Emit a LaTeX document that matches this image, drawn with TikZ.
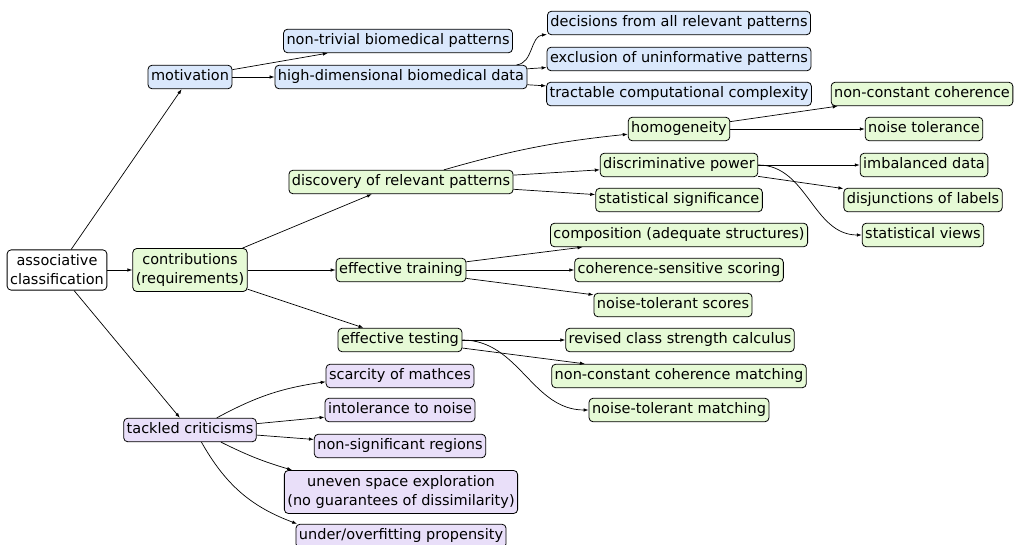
\documentclass[tikz,border=0pt]{standalone}
\usepackage{fontspec}
\setmainfont{DejaVu Sans}
\usetikzlibrary{arrows.meta}

\definecolor{motivblue}{HTML}{DAE8FC}
\definecolor{contribgreen}{HTML}{E6FAD6}
\definecolor{criticpurple}{HTML}{E9DFF9}

\tikzset{
  box/.style={draw, rounded corners=4pt, line width=0.8pt, inner xsep=3pt, inner ysep=4.5pt,
    text height=11pt, text depth=3.5pt, font=\fontsize{14.5}{19}\selectfont},
  twobox/.style={draw, rounded corners=4pt, line width=0.8pt, inner xsep=3pt, inner ysep=5pt,
    align=center, font=\fontsize{14.5}{19}\selectfont},
  motivbox/.style={box, fill=motivblue},
  contribbox/.style={box, fill=contribgreen},
  criticbox/.style={box, fill=criticpurple},
  arr/.style={-{Latex[length=5pt,width=3.5pt]}, line width=0.7pt},
}

\begin{document}
\begin{tikzpicture}[x=1pt, y=-1pt]
    \useasboundingbox (0,0) rectangle (1016,545);

    % Root
    \node[twobox, fill=white] (assoc) at (57,270) {associative\\classification};

    % Motivation
    \node[motivbox] (motiv) at (190,77) {motivation};
    \node[motivbox] (nontriv) at (398,41) {non-trivial biomedical patterns};
    \node[motivbox] (highdim) at (401,77) {high-dimensional biomedical data};
    \node[motivbox] (decis) at (679,23) {decisions from all relevant patterns};
    \node[motivbox] (exclus) at (679,59) {exclusion of uninformative patterns};
    \node[motivbox] (tract) at (679,94) {tractable computational complexity};

    % Contributions
    \node[twobox, fill=contribgreen] (contrib) at (190,270) {contributions\\(requirements)};
    \node[contribbox] (discov) at (401,182) {discovery of relevant patterns};
    \node[contribbox] (homog) at (679,129) {homogeneity};
    \node[contribbox] (discrim) at (679,165) {discriminative power};
    \node[contribbox] (statsig) at (679,200) {statistical significance};
    \node[contribbox] (nccoh) at (922,94) {non-constant coherence};
    \node[contribbox] (noisetol) at (924,129) {noise tolerance};
    \node[contribbox] (imbal) at (924,165) {imbalanced data};
    \node[contribbox] (disj) at (923,200) {disjunctions of labels};
    \node[contribbox] (statview) at (923,235) {statistical views};

    \node[contribbox] (efftrain) at (401,270) {effective training};
    \node[contribbox] (compos) at (679,235) {composition (adequate structures)};
    \node[contribbox] (cohscore) at (679,270) {coherence-sensitive scoring};
    \node[contribbox] (ntscore) at (673,305) {noise-tolerant scores};

    \node[contribbox] (efftest) at (400,340) {effective testing};
    \node[contribbox] (revised) at (680,340) {revised class strength calculus};
    \node[contribbox] (nccmatch) at (679,376) {non-constant coherence matching};
    \node[contribbox] (ntmatch) at (679,410) {noise-tolerant matching};

    % Criticisms
    \node[criticbox] (tackled) at (190,430) {tackled criticisms};
    \node[criticbox] (scarce) at (400,376) {scarcity of mathces};
    \node[criticbox] (intol) at (400,410) {intolerance to noise};
    \node[criticbox] (nonsig) at (400,446) {non-significant regions};
    \node[twobox, fill=criticpurple] (uneven) at (401,492) {uneven space exploration\\(no guarantees of dissimilarity)};
    \node[criticbox] (underfit) at (401,536) {under/overfitting propensity};

    % Edges
    \draw[arr] (assoc) -- (motiv);
    \draw[arr] (assoc) -- (contrib);
    \draw[arr] (assoc) -- (tackled);

    \draw[arr] (motiv) -- (nontriv);
    \draw[arr] (motiv) -- (highdim);
    \draw[arr] (highdim) to[out=6,in=185] (decis);
    \draw[arr] (highdim) -- (exclus);
    \draw[arr] (highdim) -- (tract);

    \draw[arr] (contrib) -- (discov);
    \draw[arr] (contrib) -- (efftrain);
    \draw[arr] (contrib) -- (efftest);

    \draw[arr] (discov) to[bend left=5] (homog);
    \draw[arr] (discov) -- (discrim);
    \draw[arr] (discov) -- (statsig);
    \draw[arr] (homog) -- (nccoh);
    \draw[arr] (homog) -- (noisetol);
    \draw[arr] (discrim) -- (imbal);
    \draw[arr] (discrim) -- (disj);
    \draw[arr] (discrim.east) to[out=0,in=180] (statview.west);

    \draw[arr] (efftrain) -- (compos);
    \draw[arr] (efftrain) -- (cohscore);
    \draw[arr] (efftrain) -- (ntscore);

    \draw[arr] (efftest) -- (revised);
    \draw[arr] (efftest) -- (nccmatch);
    \draw[arr] (efftest.east) to[out=0,in=180] (ntmatch.west);

    \draw[arr] (tackled) to[bend left=10] (scarce);
    \draw[arr] (tackled) -- (intol);
    \draw[arr] (tackled) -- (nonsig);
    \draw[arr] (tackled) to[bend right=5] (uneven);
    \draw[arr] (tackled) to[bend right=20] (underfit);

\end{tikzpicture}
\end{document}
